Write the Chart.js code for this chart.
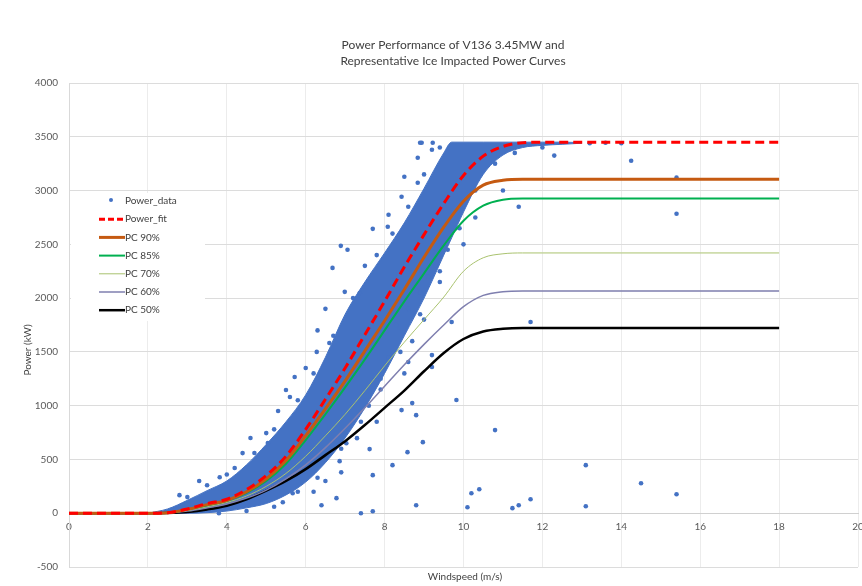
<!DOCTYPE html>
<html>
<head>
<meta charset="utf-8">
<script src="https://cdn.jsdelivr.net/npm/chart.js@4.4.1/dist/chart.umd.min.js"></script>
<style>
  body { margin: 0; background: #ffffff; }
  #wrap { width: 862px; height: 586px; }
</style>
</head>
<body>
<div id="wrap"><canvas id="powerChart" width="862" height="586"></canvas></div>
<script>
// タイトル・軸ラベル
const titleLines = ['Power Performance of V136 3.45MW and', 'Representative Ice Impacted Power Curves'];
const xTitle = 'Windspeed (m/s)';
const yTitle = 'Power (kW)';

// 曲線の風速 (m/s)
const windCurve = [0, 1, 2, 2.5, 3, 3.5, 4, 4.5, 5, 5.5, 6, 6.5, 7, 7.5, 8, 8.5, 9, 9.5, 10, 10.5, 11, 11.5, 12, 14, 16, 18];
// 各パワーカーブ (kW)
const powerFit = [0, 0, 0, 5, 40, 90, 130, 220, 350, 530, 780, 1060, 1350, 1660, 1970, 2290, 2590, 2880, 3140, 3320, 3410, 3445, 3450, 3450, 3450, 3450];
const pc90 = [0, 0, 0, 4, 36, 80, 120, 200, 320, 490, 720, 970, 1230, 1510, 1790, 2080, 2380, 2660, 2900, 3050, 3095, 3105, 3105, 3105, 3105, 3105];
const pc85 = [0, 0, 0, 4, 34, 75, 115, 190, 300, 460, 680, 920, 1170, 1430, 1700, 1970, 2230, 2490, 2720, 2860, 2915, 2926, 2926, 2926, 2926, 2926];
const pc70 = [0, 0, 0, 3, 25, 60, 100, 160, 250, 370, 530, 720, 920, 1140, 1370, 1590, 1800, 2010, 2250, 2375, 2412, 2420, 2420, 2420, 2420, 2420];
const pc60 = [0, 0, 0, 2, 20, 50, 85, 140, 215, 320, 450, 610, 790, 980, 1180, 1380, 1570, 1750, 1920, 2025, 2060, 2067, 2067, 2067, 2067, 2067];
const pc50 = [0, 0, 0, 2, 12, 35, 70, 130, 210, 300, 410, 540, 670, 820, 980, 1140, 1320, 1490, 1620, 1690, 1715, 1722, 1722, 1722, 1722, 1722];

// 観測データの密集帯 (上端・下端)
const cloudWind = [2, 2.5, 3, 3.5, 4, 4.5, 5, 5.5, 6, 6.5, 7, 7.5, 8, 8.5, 9, 9.5, 9.7, 10, 10.5, 11, 11.5, 12, 12.5, 13];
const cloudTop = [0, 40, 120, 210, 300, 450, 640, 850, 1100, 1450, 1850, 2150, 2420, 2700, 3020, 3350, 3450, 3450, 3450, 3450, 3450, 3450, 3450, 3445];
const cloudLow = [0, 0, 0, 5, 20, 50, 90, 170, 290, 470, 700, 980, 1300, 1650, 2000, 2400, 2560, 2800, 3150, 3330, 3400, 3420, 3430, 3440];

// 帯の外側・縁の散布点
const looseWind = [2.8, 3.3, 3.82, 4.4, 4.6, 5.0, 5.04, 5.3, 5.5, 5.6, 5.72, 6.0, 6.28, 6.3, 6.5, 6.6, 6.68, 6.89, 7.06, 6.99, 7.37, 7.7, 8.08, 8.1, 8.43, 8.5, 8.84, 8.84, 8.9, 8.94, 9.22, 9.2,
  5.42, 5.67, 6.2, 6.4, 6.5, 6.78, 6.9, 7.4, 7.7, 8.8, 10.1, 10.2, 10.4, 11.24, 11.4, 11.7, 13.1, 14.5, 15.4, 13.1,
  6.86, 7.03, 7.3, 7.62, 7.7, 7.6, 7.8, 7.9, 8.1, 8.2, 8.58, 8.97, 8.43, 8.5, 8.6, 8.7, 8.8, 9.2, 9.2, 9.7, 9.82, 10.8, 11.7,
  8.3, 8.6, 8.9, 9.1, 9.3, 9.4, 8.7, 9.0, 9.6, 9.9, 10.0, 10.3, 11.4, 11.0, 12.3, 13.2, 13.6, 14.0, 14.25, 15.4, 15.4,
  3.0, 3.5, 4.0, 4.2, 4.7, 5.2, 5.8, 6.2, 6.7, 7.2, 7.5, 7.8, 8.2, 8.6, 9.0, 9.4,
  3.8, 4.5, 5.2, 5.8, 6.3, 6.9, 7.4, 7.9, 8.4, 8.9, 9.4, 9.8, 10.3, 10.8, 11.3, 12.0];
const loosePower = [168, 300, 335, 559, 700, 745, 652, 950, 1145, 1080, 1266, 1350, 1500, 1700, 1900, 1583, 2281, 2486, 2449, 2058, 2048, 2644, 2663, 2775, 2942, 3128, 3072, 3305, 3445, 3445, 3445, 3380,
  102, 186, 200, 74, 300, 140, 380, 0, 19, 74, 56, 186, 223, 47, 74, 130, 65, 279, 177, 447,
  484, 651, 698, 596, 354, 1000, 850, 1250, 1450, 447, 568, 661, 959, 1300, 1406, 1024, 912, 1360, 1470, 1778, 1052, 773, 1778,
  1750, 1900, 2050, 2200, 2300, 2150, 1600, 1800, 2450, 2650, 2500, 2750, 2850, 3000, 3325, 3440, 3445, 3440, 3277, 3120, 2784,
  150, 260, 360, 420, 560, 780, 1050, 1300, 1650, 2000, 2300, 2400, 2600, 2850, 3150, 3400,
  0, 20, 60, 200, 330, 600, 850, 1150, 1500, 1850, 2250, 2650, 3000, 3250, 3350, 3400];

const blue = '#4472C4';

function pairs(xs, ys) {
    return xs.map((x, i) => ({ x: x, y: ys[i] }));
}

// 凡例に出す系列
const legendItems = [
    { label: 'Power_data', type: 'point', color: blue },
    { label: 'Power_fit', color: '#FF0000', width: 3, dash: [6, 3] },
    { label: 'PC 90%', color: '#C55A11', width: 3 },
    { label: 'PC 85%', color: '#00B050', width: 2 },
    { label: 'PC 70%', color: '#A9C26E', width: 1 },
    { label: 'PC 60%', color: '#7F7FAF', width: 1.5 },
    { label: 'PC 50%', color: '#000000', width: 2.5 }
];

// タイトル・軸タイトル・凡例を描く
const textPlugin = {
    id: 'textPlugin',
    afterDraw(chart) {
        const ctx = chart.ctx;
        ctx.save();
        ctx.fillStyle = '#404040';
        ctx.font = '12px Lato';
        ctx.textAlign = 'center';
        ctx.textBaseline = 'middle';
        titleLines.forEach((t, i) => ctx.fillText(t, 453, 45 + i * 16));

        ctx.font = '10px Lato';
        ctx.fillText(xTitle, 465, 577);
        ctx.save();
        ctx.translate(28, 350);
        ctx.rotate(-Math.PI / 2);
        ctx.fillText(yTitle, 0, 0);
        ctx.restore();

        // 凡例の背景
        ctx.fillStyle = '#ffffff';
        ctx.fillRect(71, 193, 134, 128);
        ctx.textAlign = 'left';
        legendItems.forEach((item, i) => {
            const y = 201 + i * 18.2;
            if (item.type === 'point') {
                ctx.fillStyle = item.color;
                ctx.beginPath();
                ctx.arc(111, y - 1, 2, 0, Math.PI * 2);
                ctx.fill();
            } else {
                ctx.strokeStyle = item.color;
                ctx.lineWidth = item.width;
                ctx.setLineDash(item.dash || []);
                ctx.beginPath();
                ctx.moveTo(99, y);
                ctx.lineTo(125, y);
                ctx.stroke();
                ctx.setLineDash([]);
            }
            ctx.fillStyle = '#404040';
            ctx.fillText(item.label, 125, y);
        });
        ctx.restore();
    }
};

function curve(label, ys, color, width, order, dash) {
    return {
        type: 'line',
        label: label,
        data: pairs(windCurve, ys),
        borderColor: color,
        borderWidth: width,
        borderDash: dash || [],
        pointRadius: 0,
        fill: false,
        cubicInterpolationMode: 'monotone',
        order: order
    };
}

const tickFont = { family: 'Lato', size: 10 };

new Chart(document.getElementById('powerChart').getContext('2d'), {
    type: 'scatter',
    data: {
        datasets: [
            {
                type: 'line',
                label: 'cloudLow',
                data: pairs(cloudWind, cloudLow),
                borderColor: blue,
                borderWidth: 1,
                pointRadius: 0,
                fill: false,
                cubicInterpolationMode: 'monotone',
                order: 20
            },
            {
                type: 'line',
                label: 'cloudTop',
                data: pairs(cloudWind, cloudTop),
                borderColor: blue,
                borderWidth: 1,
                backgroundColor: blue,
                pointRadius: 0,
                fill: '-1',
                cubicInterpolationMode: 'monotone',
                order: 20
            },
            {
                label: 'Power_data',
                data: pairs(looseWind, loosePower),
                backgroundColor: blue,
                borderWidth: 0,
                pointRadius: 2.3,
                order: 15
            },
            curve('Power_fit', powerFit, '#FF0000', 3, 1, [9, 5]),
            curve('PC 90%', pc90, '#C55A11', 3, 2),
            curve('PC 85%', pc85, '#00B050', 2, 3),
            curve('PC 70%', pc70, '#A9C26E', 1, 4),
            curve('PC 60%', pc60, '#7F7FAF', 1.5, 5),
            curve('PC 50%', pc50, '#000000', 2.5, 6)
        ]
    },
    options: {
        responsive: false,
        animation: false,
        devicePixelRatio: 1,
        layout: { padding: { top: 83, bottom: 19, left: 0, right: 3 } },
        plugins: {
            legend: { display: false },
            title: { display: false },
            tooltip: { enabled: false }
        },
        scales: {
            x: {
                type: 'linear',
                min: 0,
                max: 20,
                position: { y: 0 },
                ticks: { stepSize: 2, color: '#595959', font: tickFont, padding: 8, maxRotation: 0, callback: (v) => String(v) },
                grid: { color: '#ececec', drawTicks: false },
                border: { color: '#d0d0d0' },
                afterFit(scale) {
                    scale.paddingLeft = 0;
                    scale.paddingRight = 0;
                }
            },
            y: {
                min: -500,
                max: 4000,
                ticks: { stepSize: 500, color: '#595959', font: tickFont, padding: 11, callback: (v) => String(v) },
                grid: { color: '#dcdcdc', drawTicks: false },
                border: { color: '#d9d9d9' },
                afterFit(scale) {
                    scale.width = 69;
                    scale.paddingTop = 0;
                    scale.paddingBottom = 0;
                }
            }
        }
    },
    plugins: [textPlugin]
});
</script>
</body>
</html>
